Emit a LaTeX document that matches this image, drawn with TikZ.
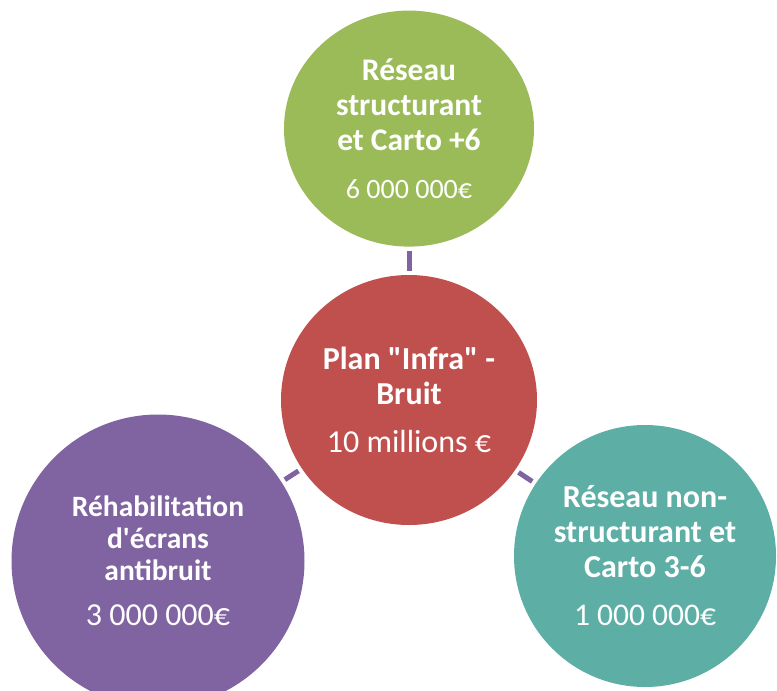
\documentclass[tikz,border=0pt]{standalone}
\usepackage{fontspec}
\newfontfamily\calibri{Carlito}
\usetikzlibrary{positioning, shapes.geometric}
\definecolor{planred}{RGB}{192,80,77}
\definecolor{cartogreen}{RGB}{155,187,89}
\definecolor{ecranpurple}{RGB}{128,100,162}
\definecolor{reseauteal}{RGB}{93,175,166}
\tikzset{
	bubble/.style ={
		ellipse,
		inner sep=0pt,
		text=white,
		align=center,
	},
	titre/.style ={
		font={\calibri\fontsize{#1}{35}\selectfont\bfseries},
	},
	link/.style ={
		draw=ecranpurple,
		line width=5pt,
		shorten <=4pt,
		shorten >=4pt,
	}
}
% amount line below the title
\newcommand{\somme}[2]{\\[13pt]\fontsize{#1}{#1}\selectfont\mdseries #2}

\begin{document}
\begin{tikzpicture}[x=1pt,y=-1pt]
\useasboundingbox (0,0) rectangle (777,691);
\node(plan)[bubble, titre=32, fill=planred, minimum width=256pt, minimum height=250pt] at (409,400)
	{Plan "Infra" -\\Bruit\somme{32}{10 millions €}};
\node(carto)[bubble, titre=31.5, fill=cartogreen, minimum width=250pt, minimum height=236pt,
	above=28pt of plan] {Réseau\\structurant\\et Carto +6\somme{28}{6 000 000€}};
\node(ecrans)[bubble, fill=ecranpurple, minimum size=293pt,
	font={\calibri\fontsize{29.5}{32}\selectfont\bfseries}] at (158,561)
	{Réhabilitation\\d'écrans\\antibruit\somme{32}{3 000 000€}};
\node(reseau)[bubble, titre=32, fill=reseauteal, minimum size=262pt] at (645,556)
	{Réseau non-\\structurant et\\Carto 3-6\somme{31.5}{1 000 000€}};

\draw[link] (plan) -- (carto);
\draw[link] (plan) -- (ecrans);
\draw[link] (plan) -- (reseau);
\end{tikzpicture}
\end{document}
